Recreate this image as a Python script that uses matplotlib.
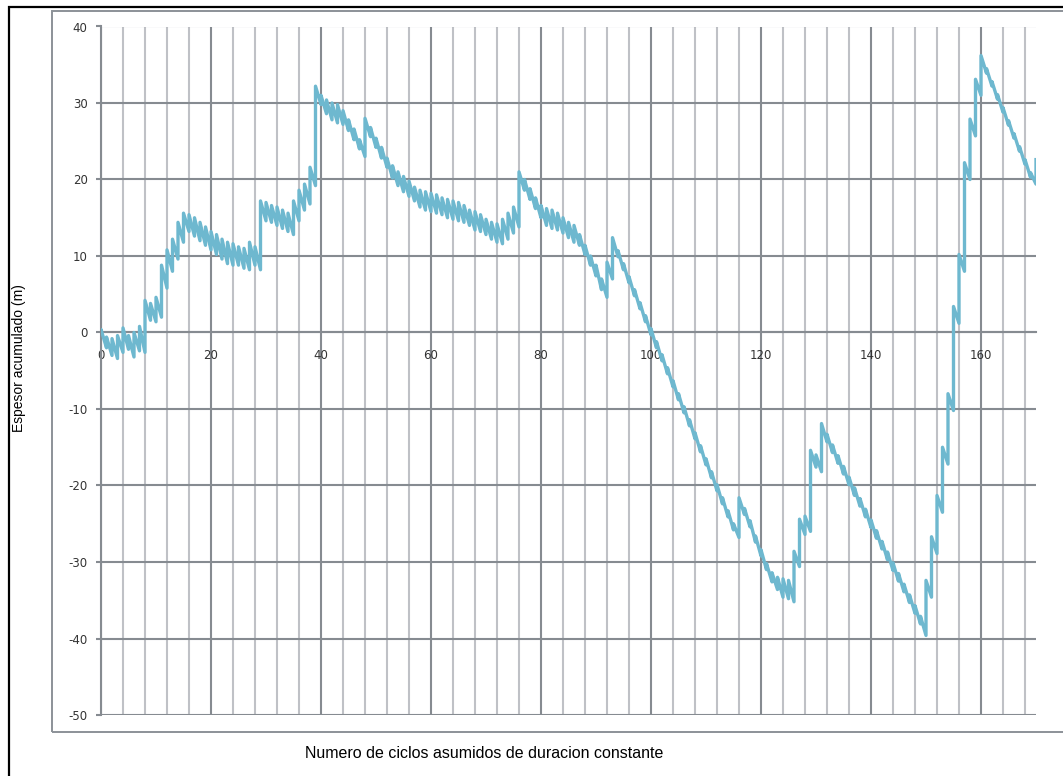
import numpy as np
import matplotlib
matplotlib.use("Agg")
import matplotlib.pyplot as plt
from matplotlib.patches import Rectangle

plt.rcParams["axes.unicode_minus"] = False

# Curva de Fischer: para cada ciclo, valor antes del ascenso (bajo) y despues (alto)
ciclo = np.arange(0, 171)

bajo = [
    0.0, -2.0, -3.0, -3.4, -2.6, -2.2, -3.2, -2.4, -2.6, 1.6,
    1.4, 2.0, 5.8, 8.0, 9.6, 11.8, 13.2, 12.6, 12.0, 11.4,
    10.8, 10.2, 9.6, 9.0, 8.8, 8.8, 8.4, 8.2, 8.8, 8.2,
    14.6, 14.4, 14.0, 13.6, 13.2, 12.8, 14.6, 16.0, 16.8, 19.2,
    29.8, 28.6, 27.8, 27.4, 27.2, 26.4, 25.2, 24.0, 23.0, 25.6,
    24.2, 22.8, 21.6, 20.2, 19.2, 18.4, 17.8, 17.2, 16.4, 16.0,
    15.8, 15.6, 15.4, 15.0, 14.8, 14.6, 14.4, 14.0, 13.4, 13.2,
    12.8, 12.2, 11.8, 11.6, 12.2, 13.0, 13.8, 18.6, 17.4, 16.2,
    15.0, 14.0, 13.6, 13.4, 13.0, 12.4, 11.8, 11.4, 10.2, 8.8,
    7.4, 5.6, 4.6, 7.0, 9.9, 8.2, 6.5, 4.8, 3.1, 1.4,
    -0.3, -2.0, -3.7, -5.4, -7.1, -8.8, -10.5, -12.2, -13.9, -15.6,
    -17.3, -19.0, -20.7, -22.4, -24.1, -25.8, -26.8, -23.8, -25.4, -27.4,
    -29.2, -31.0, -32.6, -33.6, -34.6, -34.8, -35.2, -30.6, -26.4, -26.0,
    -17.6, -18.2, -14.3, -15.7, -17.1, -18.5, -19.9, -21.3, -22.7, -24.1,
    -25.5, -26.9, -28.3, -29.7, -31.1, -32.5, -33.9, -35.3, -36.7, -38.1,
    -39.6, -34.6, -28.9, -23.5, -17.2, -10.2, 1.2, 8.0, 20.0, 25.7,
    31.0, 33.9, 32.2, 30.5, 28.8, 27.1, 25.4, 23.7, 22.0, 20.3,
    19.4,
]

alto = [
    0.4, -0.6, -0.8, -0.4, 0.6, -0.4, 0.0, 0.8, 4.2, 3.8,
    4.6, 8.8, 10.8, 12.2, 14.4, 15.6, 15.4, 15.0, 14.4, 13.8,
    13.2, 12.8, 12.2, 11.8, 11.6, 11.2, 11.0, 11.8, 11.2, 17.2,
    17.0, 16.6, 16.4, 16.0, 15.6, 17.2, 18.6, 19.4, 21.6, 32.2,
    31.0, 30.4, 30.0, 29.8, 29.0, 27.8, 26.6, 25.2, 28.0, 26.8,
    25.4, 24.2, 22.8, 21.8, 21.0, 20.4, 19.8, 19.0, 18.6, 18.4,
    18.2, 18.0, 17.6, 17.4, 17.2, 17.0, 16.6, 16.0, 15.8, 15.4,
    14.8, 14.4, 14.2, 14.8, 15.6, 16.4, 21.0, 20.0, 18.8, 17.6,
    16.6, 16.2, 16.0, 15.6, 15.0, 14.4, 14.0, 12.8, 11.4, 10.0,
    8.8, 7.0, 9.2, 12.4, 10.7, 9.0, 7.3, 5.6, 3.9, 2.2,
    0.5, -1.2, -2.9, -4.6, -6.3, -8.0, -9.7, -11.4, -13.1, -14.8,
    -16.5, -18.2, -19.9, -21.6, -23.3, -25.0, -21.6, -23.0, -24.6, -26.6,
    -28.4, -30.2, -31.4, -32.0, -32.2, -32.4, -28.6, -24.4, -24.0, -15.4,
    -16.0, -11.9, -13.3, -14.7, -16.1, -17.5, -18.9, -20.3, -21.7, -23.1,
    -24.5, -25.9, -27.3, -28.7, -30.1, -31.5, -32.9, -34.3, -35.7, -37.1,
    -32.4, -26.7, -21.3, -15.0, -8.0, 3.4, 10.2, 22.2, 27.9, 33.1,
    36.2, 34.5, 32.8, 31.1, 29.4, 27.7, 26.0, 24.3, 22.6, 20.9,
    22.6,
]

ticks_y = [-50, -40, -30, -20, -10, 0, 10, 20, 30, 40]
ticks_x = [0, 20, 40, 60, 80, 100, 120, 140, 160]

oscuro = "#868b91"
claro = "#bfc1c6"
azul = "#6eb8cf"

W, H = 1063, 776
fig = plt.figure(figsize=(W / 100, H / 100), dpi=100)
fig.patch.set_facecolor("white")

# marcos exteriores
fig.add_artist(Rectangle((9 / W, -0.1), 1.2, 1 + 0.1 - 7 / H, transform=fig.transFigure,
                         fill=False, edgecolor="black", lw=1.6))
fig.add_artist(Rectangle((52 / W, 1 - 732 / H), 1.2, (732 - 11) / H, transform=fig.transFigure,
                         fill=False, edgecolor="#8c9298", lw=1.4))

ax = fig.add_axes([101 / W, 1 - 715 / H, (1036 - 101) / W, (715 - 26.5) / H])
ax.set_xlim(0, 170)
ax.set_ylim(-50, 40)

# trayectoria escalonada: ascenso vertical y caida diagonal por ciclo
xs = np.repeat(ciclo, 2)
ys = np.column_stack([bajo, alto]).ravel()
ax.plot(xs, ys, color=azul, lw=2.4, zorder=3)

ax.set_yticks(ticks_y)
ax.set_xticks(ticks_x)
ax.set_xticks([v for v in range(0, 170, 4) if v % 20 != 0], minor=True)
ax.grid(which="major", axis="both", color=oscuro, lw=1.5, zorder=0)
ax.grid(which="minor", axis="x", color=claro, lw=1.5, zorder=0)
ax.set_axisbelow(True)

for lado in ["top", "right"]:
    ax.spines[lado].set_visible(False)
ax.spines["bottom"].set_position(("data", 0))
ax.spines["bottom"].set_color(oscuro)
ax.spines["bottom"].set_linewidth(1.5)
ax.spines["left"].set_color(oscuro)
ax.spines["left"].set_linewidth(1.5)

ax.tick_params(axis="y", which="major", length=3.6, width=1.5, color=oscuro,
               pad=6, labelsize=8.5, labelcolor="#333333")
ax.tick_params(axis="x", which="both", length=0, pad=12, labelsize=8.5,
               labelcolor="#333333")
for t in ax.get_xticklabels() + ax.get_yticklabels():
    t.set_family("DejaVu Sans")

fig.text(19 / W, 1 - 358 / H, "Espesor acumulado (m)", rotation=90,
         ha="center", va="center", fontsize=10, family="Liberation Sans")
fig.text(484 / W, 1 - 753 / H, "Numero de ciclos asumidos de duracion constante",
         ha="center", va="center", fontsize=11.5, family="Liberation Sans")

fig.savefig("out.png", dpi=100, facecolor="white")
